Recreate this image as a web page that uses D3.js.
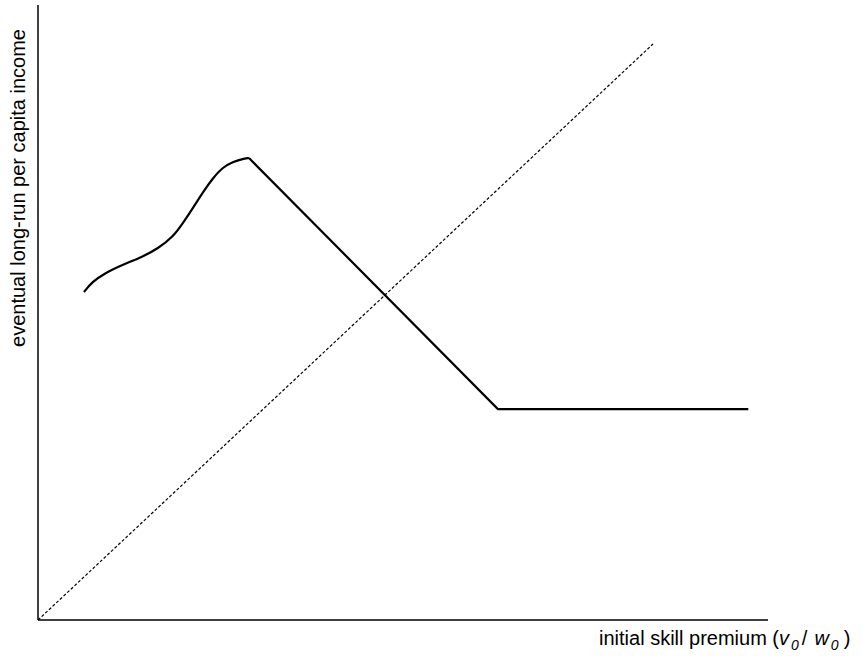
<!DOCTYPE html>
<html>
<head>
<meta charset="utf-8">
<script src="https://cdn.jsdelivr.net/npm/d3@7.9.0/dist/d3.min.js"></script>
<style>
  body { margin: 0; background: #fff; }
  text { font-family: "Liberation Sans", Arial, sans-serif; font-size: 20px; fill: #000; }
</style>
</head>
<body>
<svg width="862" height="656"></svg>
<script>
// smooth rising part of the income curve (x = skill premium, y = income)
const curveX = [6.30, 7.40, 9.18, 11.51, 14.25, 16.44, 18.49, 19.86, 21.23, 22.60, 23.97, 25.34, 26.71, 27.95, 28.90];
const curveY = [53.33, 54.96, 56.42, 57.72, 59.02, 60.40, 62.28, 64.55, 66.99, 69.59, 71.87, 73.66, 74.47, 74.96, 75.12];
// kinked straight part
const kinkX = [28.90, 63.0, 97.3];
const kinkY = [75.12, 34.3, 34.3];
// dashed diagonal
const diagX = [0, 84.25];
const diagY = [0, 93.66];

let svg = d3.select('svg');
let x = d3.scaleLinear().domain([0, 100]).range([38, 768]);
let y = d3.scaleLinear().domain([0, 100]).range([620, 5]);

// axes: plain lines, no ticks
svg.append('line').attr('x1', x(0)).attr('x2', x(0)).attr('y1', y(0)).attr('y2', y(100))
  .attr('stroke', '#000').attr('stroke-width', 1.5);
svg.append('line').attr('x1', x(0)).attr('x2', x(100)).attr('y1', y(0)).attr('y2', y(0))
  .attr('stroke', '#000').attr('stroke-width', 1.5);

let zip = (a, b) => a.map((v, i) => [v, b[i]]);

let smooth = d3.line().x(d => x(d[0])).y(d => y(d[1])).curve(d3.curveBasis);
let straight = d3.line().x(d => x(d[0])).y(d => y(d[1]));

svg.append('path').attr('d', straight(zip(diagX, diagY)))
  .attr('fill', 'none').attr('stroke', '#000').attr('stroke-width', 1.2)
  .attr('stroke-dasharray', '3,2');

svg.append('path').attr('d', smooth(zip(curveX, curveY)))
  .attr('fill', 'none').attr('stroke', '#000').attr('stroke-width', 2.2);
svg.append('path').attr('d', straight(zip(kinkX, kinkY)))
  .attr('fill', 'none').attr('stroke', '#000').attr('stroke-width', 2.2)
  .attr('stroke-linejoin', 'miter');

// labels
svg.append('text')
  .attr('transform', 'translate(25, 188) rotate(-90)')
  .attr('text-anchor', 'middle')
  .text('eventual long-run per capita income');

let xl = svg.append('text').attr('x', 599).attr('y', 645);
xl.append('tspan').text('initial skill premium (');
xl.append('tspan').attr('font-style', 'italic').text('v');
xl.append('tspan').attr('font-style', 'italic').attr('font-size', 14).attr('dx', 2).attr('dy', 5).text('0');
xl.append('tspan').attr('dx', 3).attr('dy', -5).text('/');
xl.append('tspan').attr('font-style', 'italic').attr('dx', 7).text('w');
xl.append('tspan').attr('font-style', 'italic').attr('font-size', 14).attr('dx', 2).attr('dy', 5).text('0');
xl.append('tspan').attr('dx', 5).attr('dy', -5).text(')');
</script>
</body>
</html>
